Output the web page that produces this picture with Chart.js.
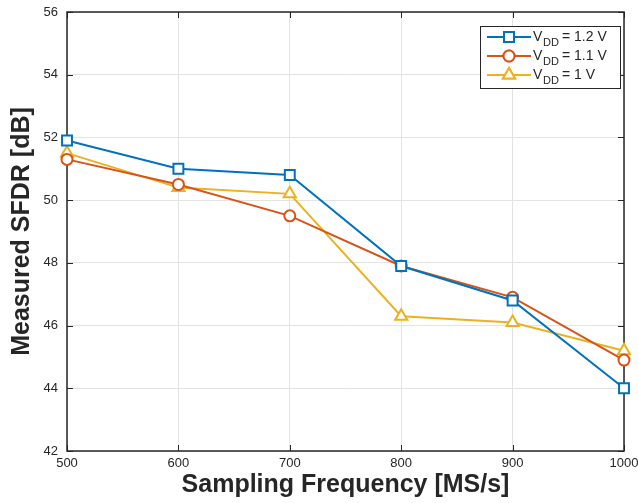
<!DOCTYPE html>
<html>
<head>
<meta charset="utf-8">
<script src="https://cdn.jsdelivr.net/npm/chart.js@4/dist/chart.umd.min.js"></script>
<style>
  html, body { margin: 0; padding: 0; background: #fff; }
  #wrap { width: 638px; height: 503px; }
</style>
</head>
<body>
<div id="wrap"><canvas id="chart"></canvas></div>
<script>
// data
const freqs = [500, 600, 700, 800, 900, 1000];
const sfdr12 = [51.9, 51.0, 50.8, 47.9, 46.8, 44.0];
const sfdr11 = [51.3, 50.5, 49.5, 47.9, 46.9, 44.9];
const sfdr10 = [51.5, 50.4, 50.2, 46.3, 46.1, 45.2];
const seriesNames = ['1.2 V', '1.1 V', '1 V'];
const yTicks = [42, 44, 46, 48, 50, 52, 54, 56];

const BLUE = '#0072BD', ORANGE = '#D95319', YELLOW = '#EDB120';
const FONT = '"Liberation Sans", Arial, sans-serif';

function pts(vals) {
    return freqs.map((f, i) => ({ x: f, y: vals[i] }));
}

function ds(label, vals, color, style, r) {
    return {
        label: label,
        data: pts(vals),
        borderColor: color,
        backgroundColor: '#ffffff',
        borderWidth: 2,
        pointStyle: style,
        pointRadius: r,
        pointBorderWidth: 2,
        pointBackgroundColor: '#ffffff',
        pointBorderColor: color,
        clip: false,
        tension: 0
    };
}

// box around the plot with inward ticks (matlab style)
const boxPlugin = {
    id: 'box',
    beforeDatasetsDraw(chart) {
        const { ctx, chartArea: a, scales } = chart;
        ctx.save();
        ctx.strokeStyle = '#262626';
        ctx.lineWidth = 1.5;
        ctx.strokeRect(a.left, a.top, a.right - a.left, a.bottom - a.top);
        ctx.lineWidth = 1;
        ctx.beginPath();
        freqs.forEach(f => {
            const x = Math.round(scales.x.getPixelForValue(f)) + 0.5;
            ctx.moveTo(x, a.bottom); ctx.lineTo(x, a.bottom - 6);
            ctx.moveTo(x, a.top); ctx.lineTo(x, a.top + 6);
        });
        yTicks.forEach(v => {
            const y = Math.round(scales.y.getPixelForValue(v)) + 0.5;
            ctx.moveTo(a.left, y); ctx.lineTo(a.left + 6, y);
            ctx.moveTo(a.right, y); ctx.lineTo(a.right - 6, y);
        });
        ctx.stroke();
        ctx.restore();
    }
};

// legend with subscripts
const legendPlugin = {
    id: 'vddLegend',
    afterDraw(chart) {
        const ctx = chart.ctx;
        const bx = 480, by = 26, bw = 140, bh = 62;
        ctx.save();
        ctx.fillStyle = '#fff';
        ctx.fillRect(bx, by, bw, bh);
        ctx.strokeStyle = '#262626';
        ctx.lineWidth = 1;
        ctx.strokeRect(bx + 0.5, by + 0.5, bw, bh);
        const colors = [BLUE, ORANGE, YELLOW];
        const rows = [37, 56, 75];
        chart.data.datasets.forEach((d, i) => {
            const y = rows[i];
            ctx.strokeStyle = colors[i];
            ctx.lineWidth = 2;
            ctx.beginPath();
            ctx.moveTo(487, y); ctx.lineTo(531, y);
            ctx.stroke();
            Chart.helpers.drawPoint(ctx, {
                pointStyle: d.pointStyle, radius: d.pointRadius, borderWidth: 2
            }, 509, y);
            ctx.fillStyle = '#fff';
            ctx.fill();
            ctx.stroke();
            ctx.fillStyle = '#262626';
            ctx.textBaseline = 'alphabetic';
            ctx.font = '14px ' + FONT;
            ctx.fillText('V', 533, y + 4);
            ctx.font = '11px ' + FONT;
            ctx.fillText('DD', 543, y + 9);
            ctx.font = '14px ' + FONT;
            ctx.fillText('= ' + seriesNames[i], 562, y + 4);
        });
        ctx.restore();
    }
};

const ctx = document.getElementById('chart').getContext('2d');
const chart = new Chart(ctx, {
    type: 'line',
    data: {
        datasets: [
            ds('VDD = 1.2 V', sfdr12, BLUE, 'rect', 7),
            ds('VDD = 1.1 V', sfdr11, ORANGE, 'circle', 5.5),
            ds('VDD = 1 V', sfdr10, YELLOW, 'triangle', 7)
        ]
    },
    options: {
        responsive: true,
        maintainAspectRatio: false,
        animation: false,
        layout: { padding: { left: 0, top: 12, right: 14, bottom: 0 } },
        plugins: {
            legend: { display: false },
            tooltip: { enabled: false }
        },
        scales: {
            x: {
                type: 'linear',
                min: 500,
                max: 1000,
                afterFit: s => { s.height = 52; s.paddingLeft = 0; s.paddingRight = 0; },
                afterBuildTicks: s => { s.ticks = freqs.map(v => ({ value: v })); },
                grid: { color: '#e3e3e3', drawTicks: false },
                border: { display: false },
                ticks: {
                    padding: 5,
                    color: '#262626',
                    font: { family: FONT, size: 13 },
                    maxRotation: 0,
                    callback: v => String(v)
                },
                title: {
                    display: true,
                    text: 'Sampling Frequency [MS/s]',
                    color: '#262626',
                    padding: { top: 0, bottom: 3 },
                    font: { family: FONT, size: 25, weight: 'bold' }
                }
            },
            y: {
                min: 42,
                max: 56,
                afterFit: s => { s.width = 67; s.paddingTop = 0; s.paddingBottom = 0; },
                afterBuildTicks: s => { s.ticks = yTicks.map(v => ({ value: v })); },
                grid: { color: '#e3e3e3', drawTicks: false },
                border: { display: false },
                ticks: {
                    padding: 9,
                    color: '#262626',
                    font: { family: FONT, size: 13 }
                },
                title: {
                    display: true,
                    text: 'Measured SFDR [dB]',
                    color: '#262626',
                    padding: { top: 7, bottom: 0 },
                    font: { family: FONT, size: 25, weight: 'bold' }
                }
            }
        }
    },
    plugins: [boxPlugin, legendPlugin]
});
</script>
</body>
</html>
